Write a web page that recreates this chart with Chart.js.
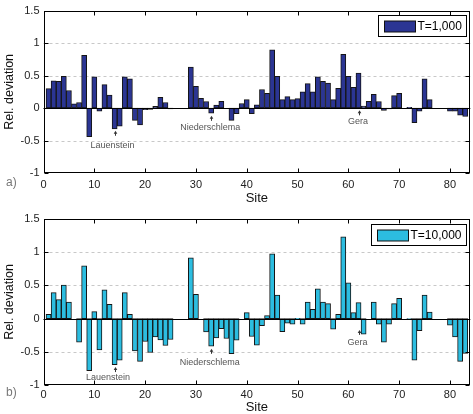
<!DOCTYPE html>
<html>
<head>
<meta charset="utf-8">
<script src="https://cdn.jsdelivr.net/npm/chart.js@4"></script>
<style>
  html, body { margin: 0; padding: 0; background: #fff; }
  body { width: 473px; height: 414px; position: relative; overflow: hidden; }
  .panel { position: absolute; left: 0; width: 473px; }
  #pa { top: 0; height: 205px; }
  #pb { top: 205px; height: 209px; }
</style>
</head>
<body>
<div class="panel" id="pa"><canvas id="ca"></canvas></div>
<div class="panel" id="pb"><canvas id="cb"></canvas></div>
<script>
// ---- data ----
const sites = [];
for (let s = 1; s <= 83; s++) sites.push(s);

const devT1000 = [
  0.30, 0.42, 0.41, 0.49, 0.27, 0.065, 0.085, 0.81, -0.44, 0.48,
  -0.05, 0.36, 0.20, -0.32, -0.28, 0.48, 0.45, -0.19, -0.26, -0.025,
  -0.02, 0.025, 0.165, 0.085, -0.015, null, null, null, 0.63, 0.335,
  0.15, 0.10, -0.08, 0.045, 0.105, null, -0.19, -0.085, 0.07, 0.13,
  -0.085, 0.05, 0.285, 0.225, 0.895, 0.49, 0.13, 0.175, 0.13, 0.145,
  0.25, 0.375, 0.25, 0.48, 0.41, 0.385, 0.13, 0.305, 0.825, 0.49,
  0.32, 0.54, 0.03, 0.105, 0.21, 0.10, -0.035, -0.015, 0.19, 0.225,
  null, 0.01, -0.225, -0.05, 0.45, 0.13, null, null, null, -0.05,
  -0.05, -0.11, -0.13
];

const devT10000 = [
  0.065, 0.39, 0.285, 0.505, 0.25, null, -0.355, 0.795, -0.785, 0.105,
  -0.47, 0.435, 0.215, -0.695, -0.625, 0.39, 0.065, -0.485, -0.645, -0.345,
  -0.51, -0.275, -0.32, -0.405, -0.315, null, null, null, 0.915, 0.365,
  null, -0.20, -0.415, -0.29, -0.15, -0.30, -0.53, -0.325, null, 0.09,
  -0.27, -0.40, -0.105, 0.045, 0.975, 0.355, -0.195, -0.07, -0.085, 0.005,
  -0.085, 0.25, 0.14, 0.45, 0.25, 0.225, -0.16, 0.065, 1.23, 0.54,
  0.09, 0.24, -0.235, null, 0.25, -0.085, -0.355, -0.085, 0.225, 0.305,
  null, -0.005, -0.625, -0.18, 0.355, 0.10, null, null, null, -0.10,
  -0.275, -0.645, -0.525
];

const seriesLabels = ['T=1,000', 'T=10,000'];
const xTicks = [0, 10, 20, 30, 40, 50, 60, 70, 80];
const yTicks = [-1, -0.5, 0, 0.5, 1, 1.5];
const yTickLabels = ['-1', '-0.5', '0', '0.5', '1', '1.5'];
const xTitle = 'Site';
const yTitle = 'Rel. deviation';
const panelLetters = ['a)', 'b)'];

// annotations (site names marked with arrows)
const annoNames = ['Lauenstein', 'Niederschlema', 'Gera'];
const annoSites = [14, 33, 62];
const annoTipA = [-0.35, -0.12, -0.035];
const annoTextXA = [13.6, 32.8, 61.9];
const annoTextYA = [-0.575, -0.30, -0.21];
const annoTipB = [-0.73, -0.455, -0.17];
const annoTextXB = [12.7, 32.7, 61.8];
const annoTextYB = [-0.89, -0.66, -0.355];

// ---- drawing ----
const FONT = '"Liberation Sans", Arial, Helvetica, sans-serif';

function toPoints(vals) {
  const pts = [];
  vals.forEach((v, i) => { if (v !== null) pts.push({ x: sites[i], y: v }); });
  return pts;
}

const framePlugin = {
  id: 'frame',
  beforeDatasetsDraw(chart) {
    const { ctx, chartArea: a, scales: { y } } = chart;
    ctx.save();
    ctx.strokeStyle = '#c8c8c8';
    ctx.lineWidth = 1;
    ctx.setLineDash([3, 3]);
    yTicks.forEach(v => {
      if (v === 0 || v === y.min || v === y.max) return;
      const py = Math.round(y.getPixelForValue(v)) + 0.5;
      ctx.beginPath(); ctx.moveTo(a.left, py); ctx.lineTo(a.right, py); ctx.stroke();
    });
    ctx.restore();
  },
  afterDatasetsDraw(chart, args, opts) {
    const { ctx, chartArea: a, scales: { x, y } } = chart;
    ctx.save();
    // zero line
    const zy = Math.round(y.getPixelForValue(0)) + 0.5;
    ctx.strokeStyle = '#000';
    ctx.lineWidth = 1.2;
    ctx.beginPath(); ctx.moveTo(a.left, zy); ctx.lineTo(a.right, zy); ctx.stroke();
    // frame
    ctx.lineWidth = 1;
    const L = Math.round(a.left) + 0.5, R = Math.round(a.right) - 0.5;
    const T = Math.round(a.top) + 0.5, B = Math.round(a.bottom) - 0.5;
    ctx.strokeRect(L, T, R - L, B - T);
    // inner ticks
    const tl = 4;
    ctx.beginPath();
    xTicks.forEach(v => {
      const px = Math.round(x.getPixelForValue(v)) + 0.5;
      ctx.moveTo(px, B); ctx.lineTo(px, B - tl);
      ctx.moveTo(px, T); ctx.lineTo(px, T + tl);
    });
    yTicks.forEach(v => {
      const py = Math.round(y.getPixelForValue(v)) + 0.5;
      ctx.moveTo(L, py); ctx.lineTo(L + tl, py);
      ctx.moveTo(R, py); ctx.lineTo(R - tl, py);
    });
    ctx.stroke();
    // annotations
    ctx.fillStyle = '#333';
    ctx.strokeStyle = '#333';
    annoNames.forEach((name, i) => {
      const sx = Math.round(x.getPixelForValue(annoSites[i])) + 0.5;
      const ty = y.getPixelForValue(opts.tips[i]);
      ctx.beginPath(); ctx.moveTo(sx, ty + 2); ctx.lineTo(sx, ty + 5); ctx.stroke();
      ctx.beginPath(); ctx.moveTo(sx, ty); ctx.lineTo(sx - 1.8, ty + 3); ctx.lineTo(sx + 1.8, ty + 3); ctx.closePath(); ctx.fill();
      ctx.fillStyle = '#555';
      ctx.font = '9px ' + FONT;
      ctx.textAlign = 'center';
      ctx.textBaseline = 'middle';
      ctx.fillText(name, x.getPixelForValue(opts.textX[i]), y.getPixelForValue(opts.textY[i]));
      ctx.fillStyle = '#333';
    });
    ctx.restore();
  },
  afterDraw(chart, args, opts) {
    const { ctx, chartArea: a } = chart;
    const ds = chart.data.datasets[0];
    ctx.save();
    ctx.font = '12px ' + FONT;
    const tw = ctx.measureText(ds.label).width;
    const sw = 31, sh = 11, pad = 6;
    const bw = Math.round(pad + sw + 2 + tw + 5), bh = 21;
    const bx = Math.round(a.right - 4 - bw) + 0.5;
    const by = Math.round(a.top + opts.legendTop) + 0.5;
    ctx.fillStyle = '#fff';
    ctx.fillRect(bx, by, bw, bh);
    ctx.strokeStyle = '#000';
    ctx.lineWidth = 1;
    ctx.strokeRect(bx, by, bw, bh);
    const sy = Math.round(by + (bh - sh) / 2);
    ctx.fillStyle = ds.backgroundColor;
    ctx.fillRect(bx + pad, sy, sw, sh);
    ctx.strokeStyle = '#111';
    ctx.strokeRect(bx + pad, sy, sw, sh);
    ctx.fillStyle = '#000';
    ctx.textAlign = 'left';
    ctx.textBaseline = 'middle';
    ctx.fillText(ds.label, bx + pad + sw + 2, by + bh / 2 + 0.5);
    // panel letter
    ctx.font = '12px ' + FONT;
    ctx.fillStyle = '#777';
    ctx.fillText(opts.letter, 6, a.bottom + opts.letterDy);
    ctx.restore();
  }
};

function makeChart(id, vals, label, color, cfg) {
  return new Chart(document.getElementById(id), {
    type: 'bar',
    data: {
      datasets: [{
        label: label,
        data: toPoints(vals),
        backgroundColor: color,
        borderColor: '#151515',
        borderWidth: 1,
        borderSkipped: false,
        barPercentage: 1,
        categoryPercentage: 1
      }]
    },
    options: {
      responsive: true,
      maintainAspectRatio: false,
      animation: false,
      devicePixelRatio: 1,
      layout: { padding: { top: cfg.padTop, right: 2.7, left: 0, bottom: 0 } },
      plugins: {
        legend: { display: false },
        tooltip: { enabled: false },
        frame: cfg.frame
      },
      scales: {
        x: {
          type: 'linear',
          offset: false,
          min: 0, max: 84,
          afterBuildTicks(s) { s.ticks = xTicks.map(v => ({ value: v })); },
          afterFit(s) { s.height = cfg.xHeight; },
          grid: { display: false, drawTicks: false, offset: false },
          border: { display: false },
          ticks: { color: '#222', font: { size: 11, family: FONT }, padding: cfg.xTickPad, maxRotation: 0, autoSkip: false },
          title: { display: true, text: xTitle, color: '#111', font: { size: 13, family: FONT, lineHeight: 1 }, padding: 0 }
        },
        y: {
          min: -1, max: 1.5,
          afterBuildTicks(s) { s.ticks = yTicks.map(v => ({ value: v })); },
          afterFit(s) { s.width = 43.5; },
          grid: { display: false, drawTicks: false },
          border: { display: false },
          ticks: {
            color: '#222', font: { size: 11, family: FONT }, padding: 4,
            callback: (v) => { const i = yTicks.indexOf(v); return i >= 0 ? yTickLabels[i] : ''; }
          },
          title: { display: true, text: yTitle, color: '#111', font: { size: 12.5, family: FONT }, padding: { top: 2, bottom: 0 } }
        }
      }
    },
    plugins: [framePlugin]
  });
}

makeChart('ca', devT1000, seriesLabels[0], '#2b3593', {
  padTop: 8, xHeight: 32, xTickPad: 5,
  frame: { tips: annoTipA, textX: annoTextXA, textY: annoTextYA, legendTop: 4, letter: panelLetters[0], letterDy: 10 }
});
makeChart('cb', devT10000, seriesLabels[1], '#2cbde0', {
  padTop: 14, xHeight: 29, xTickPad: 3,
  frame: { tips: annoTipB, textX: annoTextXB, textY: annoTextYB, legendTop: 5, letter: panelLetters[1], letterDy: 8 }
});
</script>
</body>
</html>
